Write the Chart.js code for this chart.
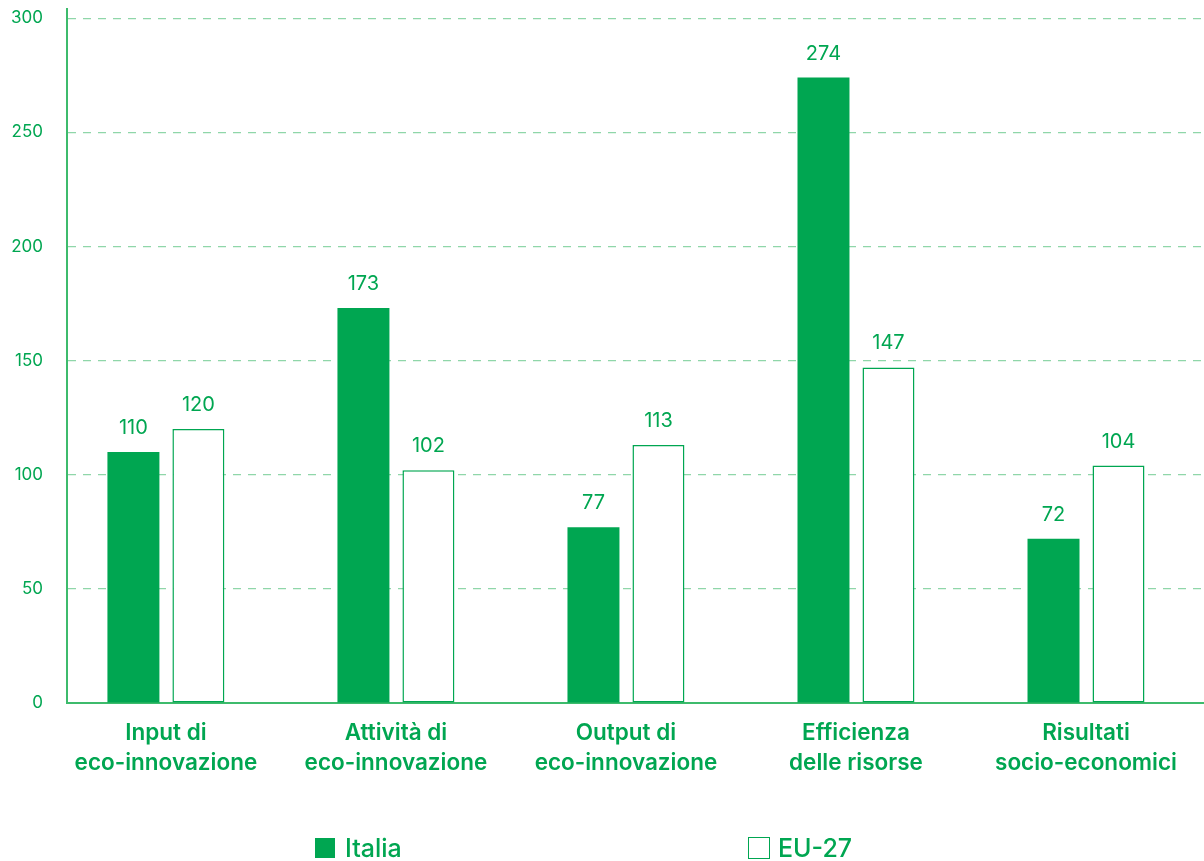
<!DOCTYPE html>
<html lang="it">
<head>
<meta charset="utf-8">
<title>Eco-innovazione: Italia e EU-27</title>
<script src="https://cdn.jsdelivr.net/npm/chart.js@4.4.1/dist/chart.umd.min.js"></script>
<style>
  html, body { margin: 0; padding: 0; background: #ffffff; }
  #wrap { position: relative; width: 1204px; height: 861px; }
  #chart { position: absolute; left: 0; top: 0; }
  .legend-item {
    position: absolute; top: 834px; display: flex; align-items: center;
    font-family: Inter, "Noto Sans", sans-serif; font-weight: 500; font-size: 25px;
    color: #00a651; line-height: 28px;
  }
  .swatch { width: 20px; height: 20px; margin-right: 10px; box-sizing: border-box; }
  .swatch.fill { background: #00a651; }
  .swatch.outline { background: #fff; border: 1.5px solid #00a651; width: 22px; height: 22px; margin-right: 8px; }
</style>
</head>
<body>
<div id="wrap">
  <canvas id="chart" width="1204" height="861"></canvas>
  <div class="legend-item" style="left:315px;"><span class="swatch fill"></span>Italia</div>
  <div class="legend-item" style="left:748px;"><span class="swatch outline"></span>EU-27</div>
</div>
<script>
// Indicator groups (two-line axis labels)
const categories = [
  ["Input di", "eco-innovazione"],
  ["Attività di", "eco-innovazione"],
  ["Output di", "eco-innovazione"],
  ["Efficienza", "delle risorse"],
  ["Risultati", "socio-economici"]
];
// Index scores, EU-27 reference
const italiaValues = [110, 173, 77, 274, 72];
const eu27Values = [120, 102, 113, 147, 104];
const seriesNames = ["Italia", "EU-27"];
const yTicks = [0, 50, 100, 150, 200, 250, 300];

const GREEN = "#00a651";
const GRID = "#8fd6a9";
const AXIS = "#3dbb6c";
const FONT = 'Inter, "Noto Sans", sans-serif';

const toPoints = vals => vals.map((v, i) => ({ x: i, y: v }));

// Value labels above every bar
const valueLabels = {
  id: "valueLabels",
  afterDatasetsDraw(chart) {
    const ctx = chart.ctx;
    ctx.save();
    ctx.fillStyle = GREEN;
    ctx.font = "400 20px " + FONT;
    ctx.textAlign = "center";
    ctx.textBaseline = "middle";
    chart.data.datasets.forEach((ds, di) => {
      const meta = chart.getDatasetMeta(di);
      meta.data.forEach((bar, i) => {
        ctx.fillText(String(ds.data[i].y), bar.x, bar.y - 24);
      });
    });
    ctx.restore();
  }
};

new Chart(document.getElementById("chart"), {
  type: "bar",
  data: {
    datasets: [
      {
        label: seriesNames[0],
        data: toPoints(italiaValues),
        backgroundColor: GREEN,
        borderColor: GREEN,
        borderWidth: 0
      },
      {
        label: seriesNames[1],
        data: toPoints(eu27Values),
        backgroundColor: "#ffffff",
        borderColor: GREEN,
        borderWidth: 1.5,
        borderSkipped: false
      }
    ]
  },
  options: {
    responsive: false,
    animation: false,
    events: [],
    categoryPercentage: 0.565,
    barPercentage: 0.8,
    layout: { padding: { top: 9, right: 0, left: 0, bottom: 0 } },
    plugins: {
      legend: { display: false },
      tooltip: { enabled: false }
    },
    scales: {
      x: {
        type: "linear",
        offset: false,
        min: -0.43,
        max: 4.513,
        afterBuildTicks(scale) {
          scale.ticks = categories.map((c, i) => ({ value: i }));
        },
        afterFit(scale) {
          scale.height = 158;
          scale.paddingLeft = 0;
          scale.paddingRight = 0;
        },
        grid: { display: false, drawTicks: false },
        border: { display: true, color: AXIS, width: 2 },
        ticks: {
          color: GREEN,
          font: { family: FONT, size: 22.5, weight: "600", lineHeight: 1.3 },
          padding: 16,
          maxRotation: 0,
          autoSkip: false,
          callback: (v) => categories[v]
        }
      },
      y: {
        min: 0,
        max: 304,
        afterBuildTicks(scale) {
          scale.ticks = yTicks.map(v => ({ value: v }));
        },
        afterFit(scale) {
          scale.width = 67;
          scale.paddingTop = 0;
          scale.paddingBottom = 0;
        },
        grid: {
          color: GRID,
          lineWidth: 1.2,
          drawTicks: false
        },
        border: { display: true, color: AXIS, width: 2, dash: [8, 7] },
        ticks: {
          color: GREEN,
          font: { family: FONT, size: 17, weight: "400" },
          padding: 24
        }
      }
    }
  },
  plugins: [valueLabels]
});
</script>
</body>
</html>
